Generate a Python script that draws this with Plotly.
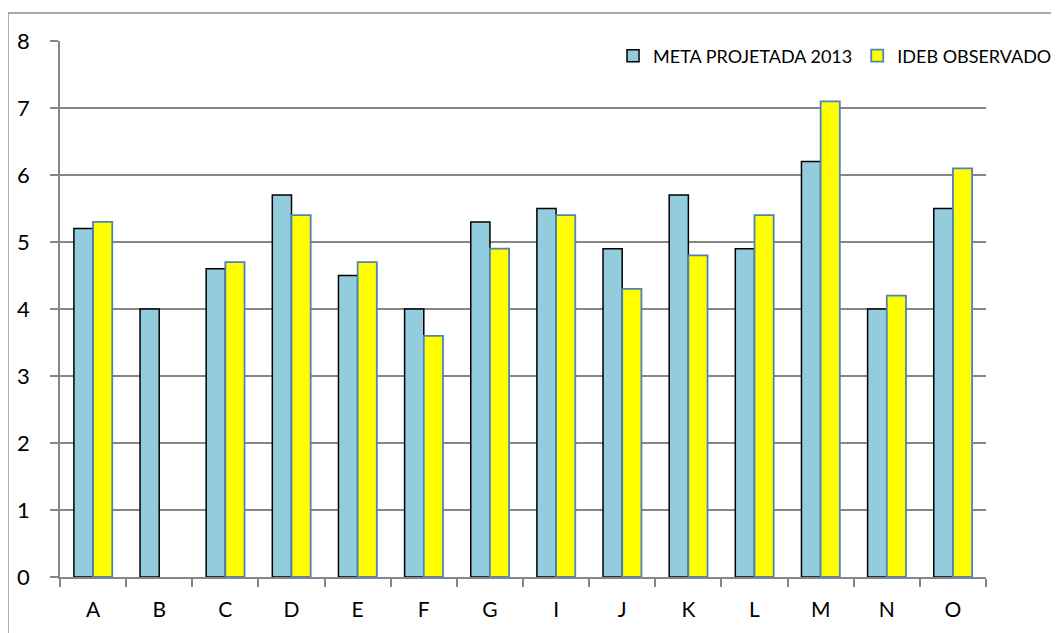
import plotly.graph_objects as go

categories = ["A", "B", "C", "D", "E", "F", "G", "I", "J", "K", "L", "M", "N", "O"]
meta_2013 = [5.2, 4.0, 4.6, 5.7, 4.5, 4.0, 5.3, 5.5, 4.9, 5.7, 4.9, 6.2, 4.0, 5.5]
ideb_obs = [5.3, None, 4.7, 5.4, 4.7, 3.6, 4.9, 5.4, 4.3, 4.8, 5.4, 7.1, 4.2, 6.1]
y_ticks = [0, 1, 2, 3, 4, 5, 6, 7, 8]

FONT = "Lato"
GRID = "#868686"

fig = go.Figure()
fig.add_trace(go.Bar(
    x=categories, y=meta_2013, name="META PROJETADA 2013",
    marker=dict(color="#93CDDD", line=dict(color="#000000", width=1.5)),
))
fig.add_trace(go.Bar(
    x=categories, y=ideb_obs, name="IDEB OBSERVADO",
    marker=dict(color="#FFFF00", line=dict(color="#4F81BD", width=1.8)),
))

# page body has an 8px margin, so the figure is 8px smaller and shifted
fig.update_layout(
    width=1051, height=625,
    margin=dict(l=52, r=73, t=33, b=56, autoexpand=False),
    paper_bgcolor="white", plot_bgcolor="white",
    barmode="group", bargap=0.42, bargroupgap=0,
    font=dict(family=FONT, size=20, color="#000000"),
    showlegend=True,
    legend=dict(
        orientation="h", x=1.0767, xanchor="right", y=0.972, yanchor="middle",
        bgcolor="white", font=dict(family=FONT, size=18, color="#000000"),
        traceorder="normal", itemwidth=30,
    ),
    xaxis=dict(
        type="category", showgrid=False, showline=True, linecolor=GRID, linewidth=1.5,
        ticks="outside", tickson="boundaries", ticklen=8, tickcolor=GRID, tickwidth=1.5,
        ticklabelstandoff=13, tickfont=dict(family=FONT, size=21),
    ),
    yaxis=dict(
        range=[0, 8], tickvals=y_ticks, showgrid=True, gridcolor=GRID, gridwidth=1.5,
        zeroline=False, showline=True, linecolor=GRID, linewidth=1.5,
        ticks="outside", ticklen=8, tickcolor=GRID, tickwidth=1.5,
        ticklabelstandoff=16, tickfont=dict(family=FONT, size=22),
    ),
    shapes=[
        dict(type="line", xref="paper", yref="paper", x0=-0.0562, x1=1.3, y0=1.0522, y1=1.0522,
             line=dict(color="#8C8C8C", width=1.5)),
        dict(type="line", xref="paper", yref="paper", x0=-0.0562, x1=-0.0562, y0=1.0522, y1=-0.3,
             line=dict(color="#8C8C8C", width=1.5)),
    ],
)

fig.write_html("out.html")
